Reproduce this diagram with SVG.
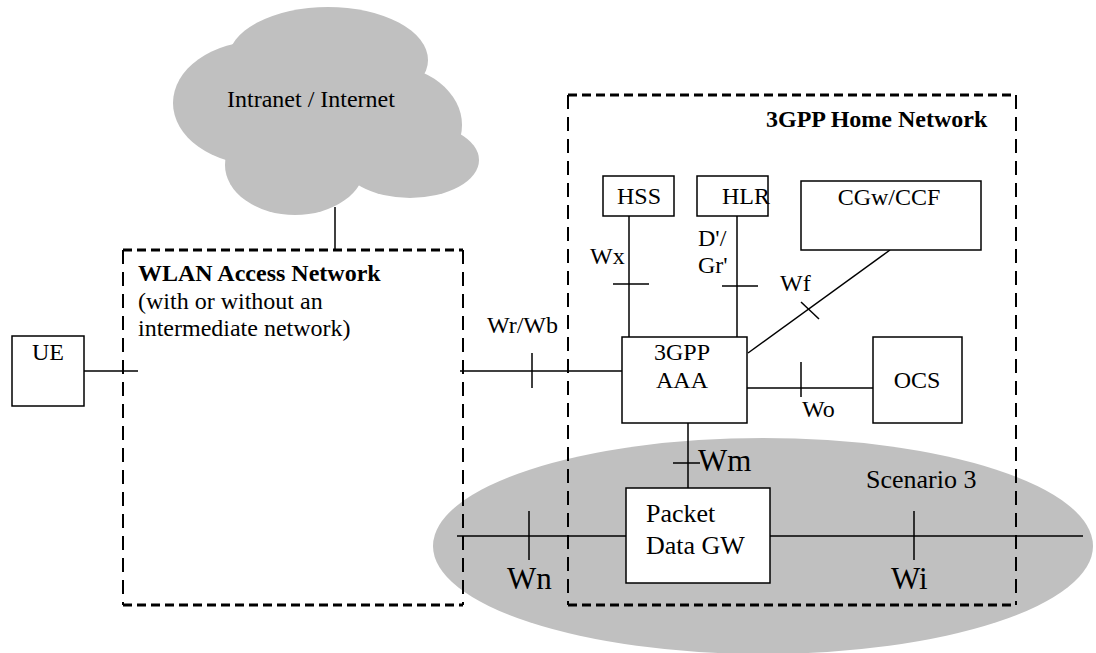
<svg xmlns="http://www.w3.org/2000/svg" width="1096" height="653" viewBox="0 0 1096 653">
<style>
text{font-family:"Liberation Serif","Times New Roman",serif;fill:#000}
.t{font-size:24px}
.b{font-size:24px;font-weight:bold}
.big{font-size:31px}
.m{font-size:26px}
.box{fill:#fff;stroke:#000;stroke-width:1.5}
.ln{stroke:#000;stroke-width:1.5;fill:none}
.dh{stroke:#000;stroke-width:3;stroke-dasharray:9 5;fill:none}
.dv{stroke:#000;stroke-width:2;stroke-dasharray:14 8;fill:none}
.g{fill:#c0c0c0}
</style>
<rect width="1096" height="653" fill="#fff"/>
<g id="scenario3">
<ellipse class="g" cx="763" cy="546" rx="330" ry="108"/>
<text class="m" x="866" y="488">Scenario 3</text>
</g>
<g id="cloud">
<ellipse class="g" cx="260" cy="103" rx="87" ry="62"/>
<ellipse class="g" cx="328" cy="60" rx="100" ry="53"/>
<ellipse class="g" cx="385" cy="125" rx="77" ry="60"/>
<ellipse class="g" cx="410" cy="160" rx="69" ry="38"/>
<ellipse class="g" cx="295" cy="165" rx="70" ry="50"/>
<ellipse class="g" cx="330" cy="125" rx="110" ry="60"/>
<text class="t" x="227" y="107">Intranet / Internet</text>
</g>
<g id="wlan">
<line class="dh" x1="123" y1="250" x2="463" y2="250"/>
<line class="dh" x1="123" y1="605" x2="463" y2="605"/>
<line class="dv" x1="123" y1="250" x2="123" y2="605"/>
<line class="dv" x1="463" y1="250" x2="463" y2="605"/>
<text class="b" x="138" y="281">WLAN Access Network</text>
<text class="t" x="138" y="309">(with or without an</text>
<text class="t" x="138" y="336">intermediate network)</text>
</g>
<g id="home">
<line class="dh" x1="568" y1="95" x2="1016" y2="95"/>
<line class="dh" x1="568" y1="605" x2="1016" y2="605"/>
<line class="dv" x1="568" y1="95" x2="568" y2="605"/>
<line class="dv" x1="1016" y1="95" x2="1016" y2="605"/>
<text class="b" x="766" y="127">3GPP Home Network</text>
</g>
<g id="connectors">
<line class="ln" x1="335" y1="207" x2="335" y2="250"/>
<line class="ln" x1="84" y1="371" x2="138" y2="371"/>
<line class="ln" x1="460" y1="371" x2="622" y2="371"/>
<line class="ln" x1="532" y1="353" x2="532" y2="388"/>
<line class="ln" x1="629" y1="216" x2="629" y2="337"/>
<line class="ln" x1="613" y1="284" x2="649" y2="284"/>
<line class="ln" x1="737" y1="216" x2="737" y2="337"/>
<line class="ln" x1="722" y1="286" x2="758" y2="286"/>
<line class="ln" x1="748" y1="353" x2="890" y2="250"/>
<line class="ln" x1="801" y1="302" x2="819" y2="319"/>
<line class="ln" x1="747" y1="388" x2="873" y2="388"/>
<line class="ln" x1="801" y1="362" x2="801" y2="397"/>
<line class="ln" x1="688" y1="419" x2="688" y2="492"/>
<line class="ln" x1="673" y1="463" x2="700" y2="463"/>
<line class="ln" x1="457" y1="536" x2="1083" y2="536"/>
<line class="ln" x1="529" y1="511" x2="529" y2="560"/>
<line class="ln" x1="914" y1="511" x2="914" y2="560"/>
<text class="t" x="487" y="333">Wr/Wb</text>
<text class="t" x="590" y="264">Wx</text>
<text class="t" x="698" y="246">D'/</text>
<text class="t" x="698" y="273">Gr'</text>
<text class="t" x="780" y="291">Wf</text>
<text class="t" x="802" y="417">Wo</text>
<text class="big" x="698" y="471">Wm</text>
<text class="big" x="507" y="589">Wn</text>
<text class="big" x="891" y="589">Wi</text>
</g>
<g id="ue">
<rect class="box" x="12" y="336" width="72" height="70"/>
<text class="t" x="48" y="360" text-anchor="middle">UE</text>
</g>
<g id="hss">
<rect class="box" x="603" y="176" width="71" height="40"/>
<text class="t" x="639" y="204" text-anchor="middle">HSS</text>
</g>
<g id="hlr">
<rect class="box" x="697" y="176" width="71" height="40"/>
<text class="t" x="722" y="204">HLR</text>
</g>
<g id="cgw">
<rect class="box" x="801" y="181" width="180" height="69"/>
<text class="t" x="889" y="205" text-anchor="middle">CGw/CCF</text>
</g>
<g id="aaa">
<rect class="box" x="622" y="337" width="125" height="86"/>
<text class="t" x="682" y="360" text-anchor="middle">3GPP</text>
<text class="t" x="682" y="388" text-anchor="middle">AAA</text>
</g>
<g id="ocs">
<rect class="box" x="873" y="337" width="89" height="86"/>
<text class="t" x="917" y="388" text-anchor="middle">OCS</text>
</g>
<g id="pdg">
<rect class="box" x="626" y="488" width="144" height="95"/>
<text class="m" x="646" y="522">Packet</text>
<text class="m" x="646" y="554">Data GW</text>
</g>
</svg>
